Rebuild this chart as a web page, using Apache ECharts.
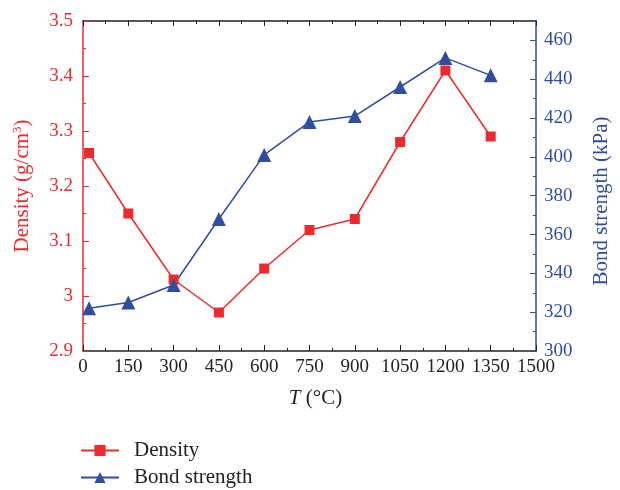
<!DOCTYPE html>
<html>
<head>
<meta charset="utf-8">
<script src="https://cdn.jsdelivr.net/npm/echarts@6/dist/echarts.min.js"></script>
<style>
  html, body { margin: 0; padding: 0; background: #fff; }
</style>
</head>
<body>
<div id="chart" style="width:620px;height:490px;"></div>
<script>
// data
const temps = [20, 150, 300, 450, 600, 750, 900, 1050, 1200, 1350];
const density = [3.26, 3.15, 3.03, 2.97, 3.05, 3.12, 3.14, 3.28, 3.41, 3.29];
const bondStrength = [322, 325, 334, 368, 401, 418, 421, 436, 451, 442];

const red = '#ee2a2f';
const blue = '#2f4e9e';
const ink = '#222';
const serif = '"Liberation Serif", "DejaVu Serif", serif';

const chart = echarts.init(document.getElementById('chart'));

// axis only used to draw the small (minor) ticks
function tickAxis(pos, min, max, step, color, len) {
  return {
    type: 'value',
    position: pos,
    min: min, max: max, interval: step,
    axisLine: { show: false, onZero: false },
    axisTick: { show: true, inside: true, length: len, lineStyle: { color: color } },
    axisLabel: { show: false },
    splitLine: { show: false }
  };
}

const option = {
  animation: false,
  textStyle: { fontFamily: serif },
  grid: { left: 83, right: 83, top: 21, bottom: 139, containLabel: false },
  legend: {
    orient: 'vertical',
    left: 80,
    top: 440,
    height: 60,
    padding: 0,
    itemWidth: 38,
    itemHeight: 14,
    itemGap: 6,
    textStyle: { fontFamily: serif, fontSize: 21, lineHeight: 20, color: ink, padding: [0, 0, 0, 10] },
    data: ['Density', 'Bond strength']
  },
  xAxis: [{
    type: 'value',
    min: 0, max: 1500, interval: 150,
    name: '{i|T} (°C)',
    nameLocation: 'middle',
    nameGap: 37,
    nameTextStyle: {
      fontFamily: serif, fontSize: 21, color: ink, padding: [0, 0, 0, 12],
      rich: { i: { fontFamily: serif, fontStyle: 'italic', fontSize: 21, color: ink } }
    },
    axisLine: { onZero: false, lineStyle: { color: ink, width: 1.5 } },
    axisTick: { inside: true, length: 6, lineStyle: { color: ink } },
    axisLabel: { fontFamily: serif, fontSize: 19, color: ink, margin: 7, formatter: v => String(v) },
    splitLine: { show: false }
  }, {
    type: 'value',
    position: 'top',
    min: 0, max: 1500, interval: 150,
    axisLine: { show: true, onZero: false, lineStyle: { color: ink, width: 1.5 } },
    axisTick: { inside: true, length: 5, lineStyle: { color: ink } },
    axisLabel: { show: false },
    splitLine: { show: false }
  },
    tickAxis('bottom', 0, 1500, 75, ink, 3),
    tickAxis('top', 0, 1500, 75, ink, 3)
  ],
  yAxis: [{
    type: 'value',
    position: 'left',
    min: 2.9, max: 3.5, interval: 0.1,
    name: 'Density (g/cm{s|3})',
    nameLocation: 'middle',
    nameGap: 50,
    nameRotate: 90,
    nameTextStyle: {
      fontFamily: serif, fontSize: 21, color: red,
      rich: { s: { fontFamily: serif, fontSize: 13, color: red, verticalAlign: 'top', padding: [0, 0, 9, 0] } }
    },
    axisLine: { show: true, onZero: false, lineStyle: { color: red, width: 1.5 } },
    axisTick: { inside: true, length: 6, lineStyle: { color: red } },
    axisLabel: {
      fontFamily: serif, fontSize: 19, color: red, margin: 10,
      formatter: v => String(Math.round(v * 10) / 10)
    },
    splitLine: { show: false }
  }, {
    type: 'value',
    position: 'right',
    min: 300, max: 470, interval: 20,
    name: 'Bond strength (kPa)',
    nameLocation: 'middle',
    nameGap: 55,
    nameRotate: 90,
    nameTextStyle: { fontFamily: serif, fontSize: 21, color: blue, padding: [0, 30, 0, 0] },
    axisLine: { show: true, onZero: false, lineStyle: { color: blue, width: 1.5 } },
    axisTick: { inside: true, length: 6, lineStyle: { color: blue } },
    axisLabel: { fontFamily: serif, fontSize: 19, color: blue, margin: 8, showMaxLabel: false },
    splitLine: { show: false }
  },
    tickAxis('left', 2.9, 3.5, 0.05, red, 3),
    tickAxis('right', 300, 470, 10, blue, 3)
  ],
  series: [{
    name: 'Density',
    type: 'line',
    xAxisIndex: 0,
    yAxisIndex: 0,
    data: temps.map((t, i) => [t, density[i]]),
    symbol: 'rect',
    symbolSize: 10,
    color: red,
    lineStyle: { color: red, width: 1.5 },
    itemStyle: { color: red }
  }, {
    name: 'Bond strength',
    type: 'line',
    xAxisIndex: 0,
    yAxisIndex: 1,
    data: temps.map((t, i) => [t, bondStrength[i]]),
    symbol: 'triangle',
    symbolSize: 14,
    color: blue,
    lineStyle: { color: blue, width: 1.5 },
    itemStyle: { color: blue }
  }]
};

chart.setOption(option);
</script>
</body>
</html>
